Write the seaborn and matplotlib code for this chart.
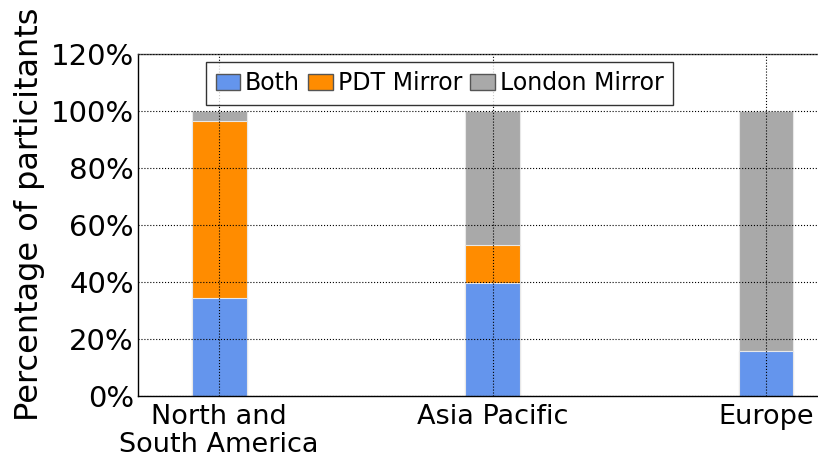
import pandas as pd
import matplotlib
matplotlib.use("Agg")
import matplotlib.pyplot as plt
from matplotlib.patches import Patch
from matplotlib.ticker import FuncFormatter
import seaborn as sns

regions = ["North and\nSouth America", "Asia Pacific", "Europe"]
both = [34.3, 39.8, 15.7]
pdt_mirror = [62.2, 13.2, 0.0]
london_mirror = [3.5, 47.0, 84.3]
series_names = ["Both", "PDT Mirror", "London Mirror"]
colors = ["#6495ED", "#FF8C00", "#A9A9A9"]

df = pd.DataFrame({"region": regions, "both": both, "pdt": pdt_mirror, "london": london_mirror})
df["top_pdt"] = df["both"] + df["pdt"]
df["top_london"] = df["top_pdt"] + df["london"]

sns.set_style("white")
plt.rcParams["font.family"] = ["DejaVu Sans"]
for k in ["text.color", "axes.labelcolor", "xtick.color", "ytick.color"]:
    plt.rcParams[k] = "black"

fig = plt.figure(figsize=(8.18, 4.59), dpi=100)
ax = fig.add_axes([138 / 818, 63 / 459, 688 / 818, 342 / 459])

# stacked by overdrawing cumulative heights
bar_kw = dict(width=0.2, edgecolor="#e8e8e8", linewidth=0.8, ax=ax)
sns.barplot(data=df, x="region", y="top_london", color=colors[2], saturation=1, **bar_kw)
sns.barplot(data=df, x="region", y="top_pdt", color=colors[1], saturation=1, **bar_kw)
sns.barplot(data=df, x="region", y="both", color=colors[0], saturation=1, **bar_kw)

ax.set_xlim(-0.297, 2.22)
ax.set_ylim(0, 120)
ax.set_yticks(range(0, 121, 20))
ax.yaxis.set_major_formatter(FuncFormatter(lambda v, p: f"{int(v)}%"))
ax.set_xlabel("")
ax.set_ylabel("Percentage of particitants", fontsize=23)
ax.yaxis.set_label_coords(-0.135, 0.53)
ax.tick_params(axis="y", labelsize=21, length=0, pad=3)
ax.tick_params(axis="x", labelsize=19.5, length=0, pad=6)
for lbl in ax.get_xticklabels():
    lbl.set_linespacing(1.1)
ax.grid(True, linestyle=":", color="black", linewidth=0.8)
ax.set_axisbelow(False)
for sp in ax.spines.values():
    sp.set_color("black")
    sp.set_linewidth(1.0)
ax.spines["top"].set_color("#555555")

handles = [Patch(facecolor=c, edgecolor="#555555", label=n) for c, n in zip(colors, series_names)]
leg = ax.legend(handles=handles, ncol=3, loc="upper left", bbox_to_anchor=(0.099, 0.977),
                fontsize=17, frameon=True, fancybox=False, edgecolor="black",
                handlelength=1.05, handletextpad=0.2, columnspacing=0.35,
                borderpad=0.4, borderaxespad=0)
leg.get_frame().set_linewidth(1.0)

fig.savefig("out.png", dpi=100)
